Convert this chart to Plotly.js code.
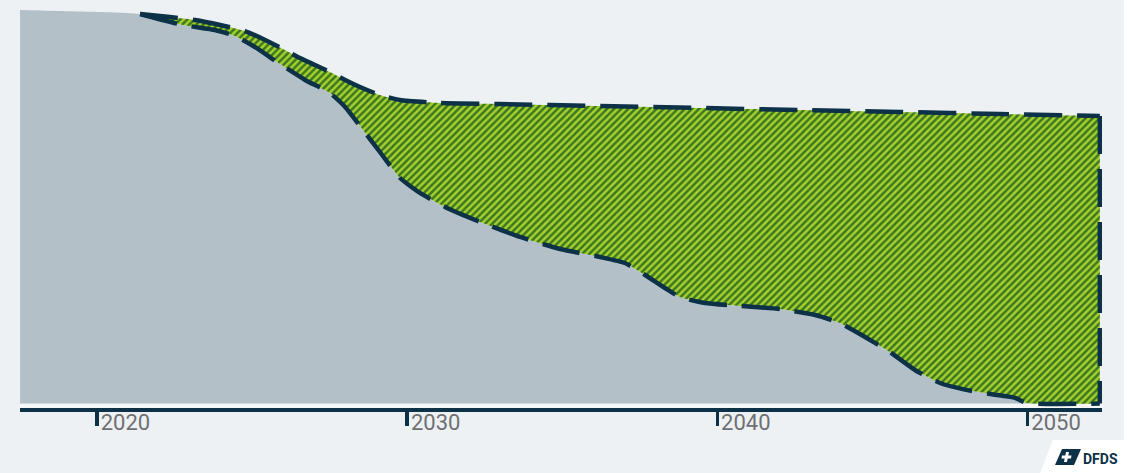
<!DOCTYPE html>
<html><head><meta charset="utf-8">
<script src="https://cdn.plot.ly/plotly-3.0.1.min.js"></script>
<style>html,body{margin:0;padding:0;background:#ffffff;} #chart{width:1132px;height:473px;}</style>
</head><body><div id="chart"></div>
<script>
// Lower pathway (grey area top / lower dashed edge)
const lowerYears = [2017.52, 2018.81, 2020.10, 2021.39, 2022.77, 2023.80, 2024.45, 2025.09, 2025.90, 2026.71,
  2027.51, 2028.00, 2028.48, 2029.12, 2029.77, 2030.41, 2031.22, 2032.35, 2033.64, 2034.93,
  2036.22, 2037.02, 2037.67, 2038.31, 2038.79, 2039.60, 2040.73, 2042.02, 2043.15, 2043.95,
  2044.76, 2045.56, 2046.37, 2047.18, 2047.98, 2048.95, 2049.59, 2049.98, 2052.33];
const lowerValues = [100, 99.75, 99.49, 98.98, 96.19, 94.92, 93.39, 90.60, 86.28, 82.22,
  78.91, 75.36, 70.53, 63.92, 57.32, 53.51, 49.95, 46.14, 42.33, 39.28,
  37.25, 35.72, 32.67, 29.37, 27.08, 25.56, 24.80, 24.04, 22.51, 20.48,
  16.92, 13.11, 8.54, 5.23, 3.56, 2.24, 1.47, 0.15, 0];
// Upper pathway (upper dashed edge)
const upperYears = [2021.39, 2022.35, 2023.16, 2023.97, 2024.77, 2025.42, 2026.06, 2026.54, 2027.03, 2027.51,
  2028.00, 2028.48, 2029.12, 2029.77, 2031.06, 2032.99, 2036.22, 2039.44, 2042.66, 2045.89, 2049.11, 2052.33];
const upperValues = [98.98, 98.2, 97.46, 96.19, 94.66, 92.38, 89.84, 87.80, 86.03, 84.25,
  82.22, 80.44, 78.40, 77.13, 76.37, 76.12, 75.61, 75.10, 74.59, 74.09, 73.58, 73.07];
const tickYears = [2020, 2030, 2040, 2050];
const tickLabels = ['2020', '2030', '2040', '2050'];

const NAVY = '#0D3147';
const GREY = '#B4C0C8';
const BG = '#EDF1F4';
const dashStyle = {color: NAVY, width: 4.5, dash: '38px,15px', shape: 'spline', smoothing: 0.5};

const startIdx = lowerYears.indexOf(upperYears[0]);
const traces = [
  {x: lowerYears, y: lowerValues, type: 'scatter', mode: 'lines', fill: 'tozeroy',
   fillcolor: GREY, line: {width: 0, color: GREY, shape: 'spline', smoothing: 0.5}, hoverinfo: 'skip'},
  {x: lowerYears.slice(startIdx), y: lowerValues.slice(startIdx), type: 'scatter', mode: 'lines',
   line: dashStyle, hoverinfo: 'skip'},
  {x: upperYears, y: upperValues, type: 'scatter', mode: 'lines', fill: 'tonexty',
   fillcolor: '#A6CD2C',
   fillpattern: {shape: '/', bgcolor: '#A8CF2D', fgcolor: '#3A7820', size: 5, solidity: 0.5},
   line: dashStyle, hoverinfo: 'skip'},
  {x: [upperYears[upperYears.length-1], upperYears[upperYears.length-1]],
   y: [upperValues[upperValues.length-1], 0], type: 'scatter', mode: 'lines',
   line: {color: NAVY, width: 4.5, dash: '38px,15px'}, hoverinfo: 'skip'}
];

const L = 20, R = 1102, T = 10, B = 408;
const px = x => (x - L) / (R - L);
const py = y => (B - y) / (B - T);
const pt = (x, y) => px(x).toFixed(5) + ',' + py(y).toFixed(5);

const shapes = [
  {type: 'rect', xref: 'x', yref: 'y', x0: lowerYears[0], x1: 2052.4, y0: -1.12, y1: 0,
   fillcolor: '#F5F7F9', line: {width: 0}, layer: 'below'},
  {type: 'path', xref: 'paper', yref: 'paper', layer: 'above',
   path: 'M' + pt(1124, 0) + ' L' + pt(1132, 0) + ' L' + pt(1132, 473) + ' L' + pt(1040, 473) +
         ' L' + pt(1053, 440) + ' L' + pt(1124, 440) + ' Z',
   fillcolor: '#FFFFFF', line: {width: 0}},
  {type: 'path', xref: 'paper', yref: 'paper', layer: 'above',
   path: 'M' + pt(1062, 449) + ' L' + pt(1081, 449) + ' L' + pt(1074, 465) + ' L' + pt(1055, 465) + ' Z',
   fillcolor: NAVY, line: {width: 0}},
  {type: 'path', xref: 'paper', yref: 'paper', layer: 'above',
   path: 'M' + pt(1066, 452) + ' L' + pt(1069, 452) + ' L' + pt(1068.3, 455.5) + ' L' + pt(1071.5, 455.5) +
         ' L' + pt(1071, 458.5) + ' L' + pt(1067.7, 458.5) + ' L' + pt(1067, 462) + ' L' + pt(1064, 462) +
         ' L' + pt(1064.7, 458.5) + ' L' + pt(1061.5, 458.5) + ' L' + pt(1062, 455.5) + ' L' + pt(1065.3, 455.5) + ' Z',
   fillcolor: '#FFFFFF', line: {width: 0}}
];

const layout = {
  width: 1132, height: 473,
  margin: {l: L, r: 1132 - R, t: T, b: 473 - B, pad: 0},
  paper_bgcolor: BG, plot_bgcolor: BG,
  showlegend: false,
  xaxis: {range: [2017.518, 2052.40], tickvals: tickYears, ticktext: tickLabels,
    ticks: 'outside', ticklen: 14, tickwidth: 3.5, tickcolor: NAVY,
    ticklabelposition: 'outside right', ticklabelstandoff: -8,
    showline: true, linecolor: NAVY, linewidth: 4, showgrid: false, zeroline: false,
    tickfont: {family: 'Roboto, sans-serif', size: 22, color: '#6E7072'}, fixedrange: true},
  yaxis: {range: [-1.12, 100], showgrid: false, zeroline: false, showticklabels: false,
    ticks: '', showline: false, fixedrange: true},
  shapes: shapes,
  annotations: [{xref: 'paper', yref: 'paper', x: px(1081), y: py(458.5), xanchor: 'left', yanchor: 'middle',
    text: '<b>DFDS</b>', showarrow: false,
    font: {family: 'Roboto, sans-serif', size: 14, color: NAVY}}]
};

Plotly.newPlot('chart', traces, layout, {staticPlot: true, displayModeBar: false});
</script>
</body></html>
